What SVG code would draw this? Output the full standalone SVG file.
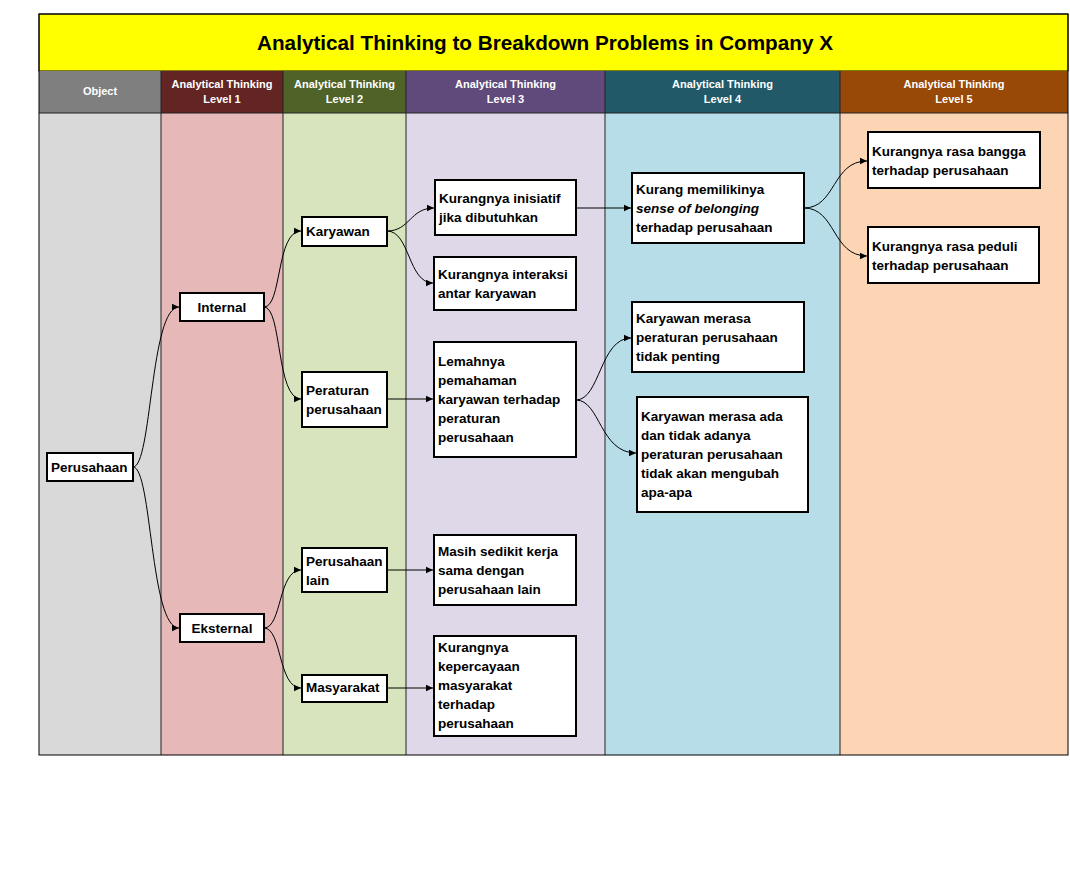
<svg xmlns="http://www.w3.org/2000/svg" width="1070" height="887" viewBox="0 0 1070 887">
<style>
.hd{font-family:"Liberation Sans",Arial,sans-serif;font-weight:bold;font-size:11px;fill:#fff;text-anchor:middle}
.nb{fill:#fff;stroke:#000;stroke-width:2}
.t{font-family:"Liberation Sans",Arial,sans-serif;font-weight:bold;font-size:13.5px;fill:#000}
.c{text-anchor:middle}
.e{fill:none;stroke:#000;stroke-width:1}
.col{stroke:#222;stroke-width:1}
</style>
<defs>
<marker id="ah" markerWidth="8" markerHeight="8" refX="7" refY="4" orient="auto" markerUnits="userSpaceOnUse">
<path d="M0,0.8 L7,4 L0,7.2 Z" fill="#000"/>
</marker>
</defs>
<rect width="1070" height="887" fill="#fff"/>
<g id="table">
<rect x="39" y="14" width="1029" height="57" fill="#ffff00" stroke="#000" stroke-width="1"/>
<text x="545" y="50" font-family="'Liberation Sans',Arial,sans-serif" font-weight="bold" font-size="20.7" text-anchor="middle" fill="#000">Analytical Thinking to Breakdown Problems in Company X</text>
<rect x="39" y="71" width="122" height="42" fill="#7f7f7f"/>
<rect x="161" y="71" width="122" height="42" fill="#632523"/>
<rect x="283" y="71" width="123" height="42" fill="#4f6228"/>
<rect x="406" y="71" width="199" height="42" fill="#5f4a7b"/>
<rect x="605" y="71" width="235" height="42" fill="#215968"/>
<rect x="840" y="71" width="228" height="42" fill="#984807"/>
<rect x="39" y="113" width="122" height="642" fill="#d9d9d9"/>
<rect x="161" y="113" width="122" height="642" fill="#e6b9b8"/>
<rect x="283" y="113" width="123" height="642" fill="#d7e4bd"/>
<rect x="406" y="113" width="199" height="642" fill="#dfd8e8"/>
<rect x="605" y="113" width="235" height="642" fill="#b7dee8"/>
<rect x="840" y="113" width="228" height="642" fill="#fcd5b5"/>
<line class="col" x1="39" y1="113" x2="1068" y2="113"/>
<line class="col" x1="161" y1="71" x2="161" y2="755"/>
<line class="col" x1="283" y1="71" x2="283" y2="755"/>
<line class="col" x1="406" y1="71" x2="406" y2="755"/>
<line class="col" x1="605" y1="71" x2="605" y2="755"/>
<line class="col" x1="840" y1="71" x2="840" y2="755"/>
<rect x="39" y="14" width="1029" height="741" fill="none" stroke="#000" stroke-width="1"/>
<text class="hd" x="100" y="95">Object</text>
<text class="hd" x="222" y="88">Analytical Thinking</text>
<text class="hd" x="222" y="103">Level 1</text>
<text class="hd" x="344.5" y="88">Analytical Thinking</text>
<text class="hd" x="344.5" y="103">Level 2</text>
<text class="hd" x="505.5" y="88">Analytical Thinking</text>
<text class="hd" x="505.5" y="103">Level 3</text>
<text class="hd" x="722.5" y="88">Analytical Thinking</text>
<text class="hd" x="722.5" y="103">Level 4</text>
<text class="hd" x="954" y="88">Analytical Thinking</text>
<text class="hd" x="954" y="103">Level 5</text>
</g>
<g id="connectors">
<path class="e" marker-end="url(#ah)" d="M133,467 C152,467 150,307 179,307"/>
<path class="e" marker-end="url(#ah)" d="M133,467 C152,467 150,628 179,628"/>
<path class="e" marker-end="url(#ah)" d="M264,307 C282,307 276,231 301,231"/>
<path class="e" marker-end="url(#ah)" d="M264,307 C282,307 276,399 301,399"/>
<path class="e" marker-end="url(#ah)" d="M264,628 C282,628 278,570 301,570"/>
<path class="e" marker-end="url(#ah)" d="M264,628 C282,628 278,688 301,688"/>
<path class="e" marker-end="url(#ah)" d="M387,231 C410,231 410,208 434,208"/>
<path class="e" marker-end="url(#ah)" d="M387,231 C410,231 408,283 433,283"/>
<path class="e" marker-end="url(#ah)" d="M387,399 L433,399"/>
<path class="e" marker-end="url(#ah)" d="M387,570 L433,570"/>
<path class="e" marker-end="url(#ah)" d="M387,688 L433,688"/>
<path class="e" marker-end="url(#ah)" d="M576,208 L631,208"/>
<path class="e" marker-end="url(#ah)" d="M576,400 C600,400 600,338 631,338"/>
<path class="e" marker-end="url(#ah)" d="M576,400 C600,400 600,453 636,453"/>
<path class="e" marker-end="url(#ah)" d="M804,208 C836,208 832,161 867,161"/>
<path class="e" marker-end="url(#ah)" d="M804,208 C836,208 832,256 867,256"/>
</g>
<g id="n-perusahaan"><rect class="nb" x="47" y="453" width="86" height="28"/><text class="t" x="51" y="472">Perusahaan</text></g>
<g id="n-internal"><rect class="nb" x="180" y="293" width="84" height="28"/><text class="t c" x="222" y="312">Internal</text></g>
<g id="n-eksternal"><rect class="nb" x="180" y="614" width="84" height="28"/><text class="t c" x="222" y="633">Eksternal</text></g>
<g id="n-karyawan"><rect class="nb" x="302" y="217" width="85" height="29"/><text class="t" x="306" y="236">Karyawan</text></g>
<g id="n-peraturan"><rect class="nb" x="302" y="372" width="85" height="55"/><text class="t" x="306" y="395">Peraturan</text><text class="t" x="306" y="414">perusahaan</text></g>
<g id="n-perusahaan-lain"><rect class="nb" x="302" y="548" width="85" height="44"/><text class="t" x="306" y="566">Perusahaan</text><text class="t" x="306" y="585">lain</text></g>
<g id="n-masyarakat"><rect class="nb" x="302" y="675" width="85" height="27"/><text class="t" x="306" y="692">Masyarakat</text></g>
<g id="n-inisiatif"><rect class="nb" x="435" y="180" width="141" height="55"/><text class="t" x="439" y="203">Kurangnya inisiatif</text><text class="t" x="439" y="222">jika dibutuhkan</text></g>
<g id="n-interaksi"><rect class="nb" x="434" y="257" width="142" height="53"/><text class="t" x="438" y="279">Kurangnya interaksi</text><text class="t" x="438" y="298">antar karyawan</text></g>
<g id="n-lemahnya"><rect class="nb" x="434" y="342" width="142" height="115"/><text class="t" x="438" y="366">Lemahnya</text><text class="t" x="438" y="385">pemahaman</text><text class="t" x="438" y="404">karyawan terhadap</text><text class="t" x="438" y="423">peraturan</text><text class="t" x="438" y="442">perusahaan</text></g>
<g id="n-kerjasama"><rect class="nb" x="434" y="535" width="142" height="70"/><text class="t" x="438" y="556">Masih sedikit kerja</text><text class="t" x="438" y="575">sama dengan</text><text class="t" x="438" y="594">perusahaan lain</text></g>
<g id="n-kepercayaan"><rect class="nb" x="434" y="636" width="142" height="100"/><text class="t" x="438" y="652">Kurangnya</text><text class="t" x="438" y="671">kepercayaan</text><text class="t" x="438" y="690">masyarakat</text><text class="t" x="438" y="709">terhadap</text><text class="t" x="438" y="728">perusahaan</text></g>
<g id="n-belonging"><rect class="nb" x="632" y="173" width="172" height="70"/><text class="t" x="636" y="194">Kurang memilikinya</text><text class="t" x="636" y="213" font-style="italic">sense of belonging</text><text class="t" x="636" y="232">terhadap perusahaan</text></g>
<g id="n-tidak-penting"><rect class="nb" x="632" y="302" width="172" height="70"/><text class="t" x="636" y="323">Karyawan merasa</text><text class="t" x="636" y="342">peraturan perusahaan</text><text class="t" x="636" y="361">tidak penting</text></g>
<g id="n-ada-tidak"><rect class="nb" x="637" y="397" width="171" height="115"/><text class="t" x="641" y="421">Karyawan merasa ada</text><text class="t" x="641" y="440">dan tidak adanya</text><text class="t" x="641" y="459">peraturan perusahaan</text><text class="t" x="641" y="478">tidak akan mengubah</text><text class="t" x="641" y="497">apa-apa</text></g>
<g id="n-bangga"><rect class="nb" x="868" y="132" width="172" height="56"/><text class="t" x="872" y="156">Kurangnya rasa bangga</text><text class="t" x="872" y="175">terhadap perusahaan</text></g>
<g id="n-peduli"><rect class="nb" x="868" y="227" width="171" height="56"/><text class="t" x="872" y="251">Kurangnya rasa peduli</text><text class="t" x="872" y="270">terhadap perusahaan</text></g>
</svg>
